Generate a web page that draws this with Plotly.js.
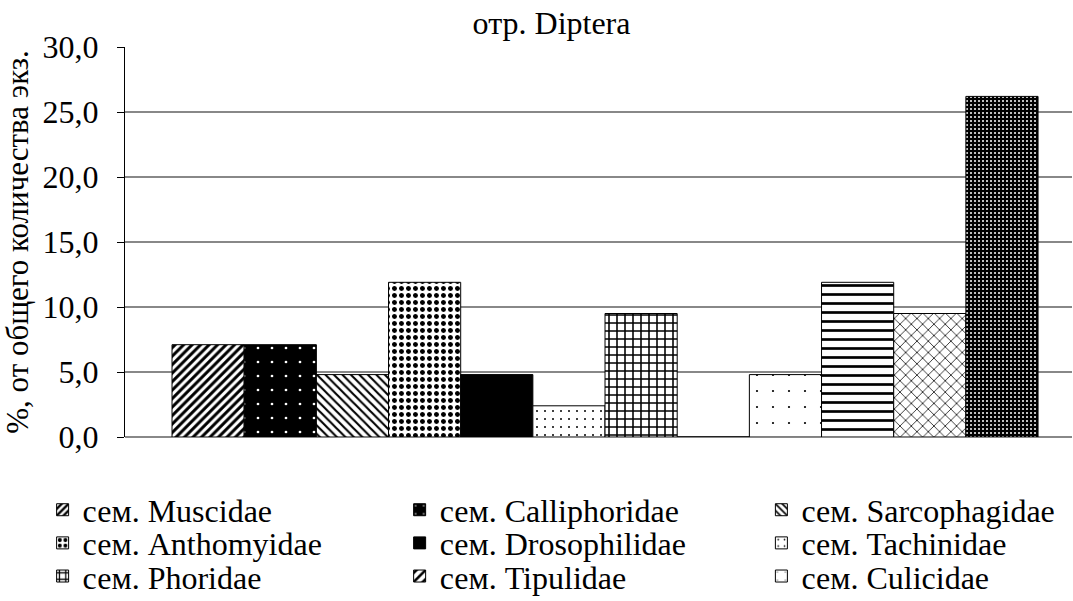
<!DOCTYPE html>
<html>
<head>
<meta charset="utf-8">
<script src="https://cdn.plot.ly/plotly-3.0.1.min.js"></script>
<style>html,body{margin:0;padding:0;background:#fff;}#chart{width:1073px;height:601px;}</style>
</head>
<body>
<div id="chart"></div>
<script>
const families = [
  "сем. Muscidae", "сем. Calliphoridae", "сем. Sarcophagidae",
  "сем. Anthomyidae", "сем. Drosophilidae", "сем. Tachinidae",
  "сем. Phoridae", "сем. Tipulidae", "сем. Culicidae",
  "сем. (10)", "сем. (11)", "сем. (12)"
];
const shares = [7.1, 7.1, 4.8, 11.9, 4.8, 2.4, 9.5, 0.0, 4.8, 11.9, 9.5, 26.2];
const inLegend = [true, true, true, true, true, true, true, true, true, false, false, false];
const yTicks = [0, 5, 10, 15, 20, 25, 30];
const chartTitle = "отр. Diptera";
const yTitle = "%, от общего количества экз.";

const patterns = [
  {shape: "/", bgcolor: "#fff", fgcolor: "#000", size: 6, solidity: 0.5},
  {shape: ".", bgcolor: "#000", fgcolor: "#fff", size: 14, solidity: 0.03},
  {shape: "\\", bgcolor: "#fff", fgcolor: "#000", size: 6, solidity: 0.35},
  {shape: ".", bgcolor: "#fff", fgcolor: "#000", size: 7, solidity: 0.4},
  {shape: "", bgcolor: "#000", fgcolor: "#000", size: 8, solidity: 0.3},
  {shape: ".", bgcolor: "#fff", fgcolor: "#000", size: 8, solidity: 0.05},
  {shape: "+", bgcolor: "#fff", fgcolor: "#000", size: 8, solidity: 0.35},
  {shape: "/", bgcolor: "#fff", fgcolor: "#000", size: 8, solidity: 0.4},
  {shape: ".", bgcolor: "#fff", fgcolor: "#000", size: 16, solidity: 0.015},
  {shape: "-", bgcolor: "#fff", fgcolor: "#000", size: 9, solidity: 0.3},
  {shape: "x", bgcolor: "#fff", fgcolor: "#000", size: 8, solidity: 0.18},
  {shape: ".", bgcolor: "#000", fgcolor: "#fff", size: 4, solidity: 0.2}
];
const solidColor = ["#fff","#000","#fff","#fff","#000","#fff","#fff","#fff","#fff","#fff","#000","#000"];

const traces = families.map((name, i) => ({
  type: "bar",
  name: name,
  x: [0],
  y: [shares[i]],
  showlegend: inLegend[i],
  legend: i < 9 ? (i === 0 ? "legend" : "legend" + (i + 1)) : "legend",
  marker: {
    color: solidColor[i],
    line: {color: "#000", width: 1},
    pattern: Object.assign({fillmode: "replace"}, patterns[i])
  },
  hoverinfo: "name+y"
}));

const FAM = "Liberation Serif, Times New Roman, serif";
const font = {family: FAM, size: 32, color: "#000"};

// legend grid: 3 columns x 3 rows (one legend per entry)
const colX = [-0.087, 0.290, 0.672];
const rowY = [-0.187, -0.272, -0.357];
const layout = {
  width: 1073, height: 601,
  margin: {l: 125, r: 1, t: 47, b: 164, autoexpand: false},
  paper_bgcolor: "#fff", plot_bgcolor: "#fff",
  font: font,
  separators: ", ",
  barmode: "group",
  bargap: 0.0855,
  bargroupgap: 0,
  title: {text: chartTitle, x: 0.514, xref: "container", xanchor: "center", yref: "container", y: 0.962, yanchor: "middle", font: {family: FAM, size: 32}},
  xaxis: {
    range: [-0.5069, 0.4931], showticklabels: false, showgrid: false, zeroline: false,
    showline: false, ticks: "", fixedrange: true
  },
  yaxis: {
    range: [0, 30], tickvals: yTicks, tickformat: ".1f",
    showgrid: true, gridcolor: "#888888", gridwidth: 1.8,
    zeroline: true, zerolinecolor: "#888888", zerolinewidth: 1.8,
    showline: true, linecolor: "#000", linewidth: 1,
    ticks: "outside", ticklen: 7, tickcolor: "#000", tickwidth: 1,
    ticklabelstandoff: 12,
    tickfont: {family: FAM, size: 32, color: "#000"},
    title: {text: yTitle, font: {family: FAM, size: 31}, standoff: 6},
    fixedrange: true
  },
  showlegend: true
};
for (let i = 0; i < 9; i++) {
  const key = i === 0 ? "legend" : "legend" + (i + 1);
  layout[key] = {
    orientation: "v", xanchor: "left", yanchor: "middle",
    x: colX[i % 3], y: rowY[Math.floor(i / 3)],
    font: {family: FAM, size: 32, color: "#000"},
    bgcolor: "rgba(0,0,0,0)", borderwidth: 0, itemwidth: 30
  };
}

Plotly.newPlot("chart", traces, layout, {displayModeBar: false, staticPlot: true});
</script>
</body>
</html>
